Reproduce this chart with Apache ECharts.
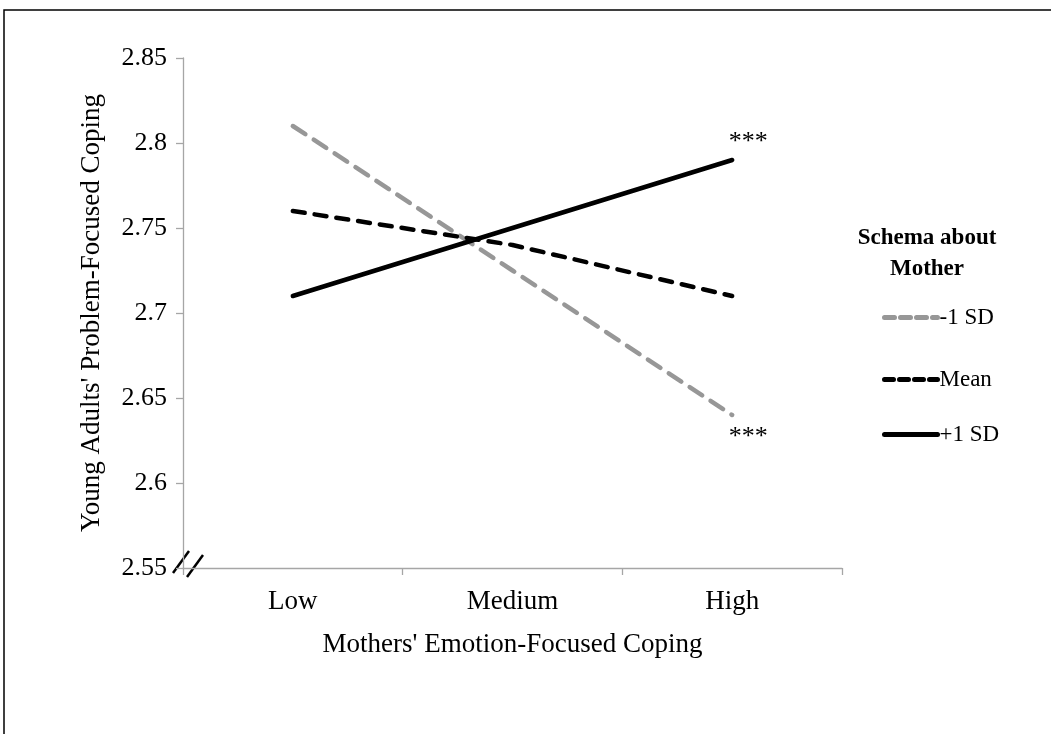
<!DOCTYPE html>
<html>
<head>
<meta charset="utf-8">
<style>html,body{margin:0;padding:0;background:#fff;}#c{width:1051px;height:734px;}</style>
<script src="https://cdn.jsdelivr.net/npm/echarts@6/dist/echarts.min.js"></script>
</head>
<body>
<div id="c"></div>
<script>
const categories = ['Low', 'Medium', 'High'];
const minus1SD = [2.81, 2.725, 2.64];
const meanSeries = [2.76, 2.74, 2.71];
const plus1SD = [2.71, 2.75, 2.79];
const yTicks = [2.55, 2.6, 2.65, 2.7, 2.75, 2.8, 2.85];
const seriesNames = ['-1 SD', 'Mean', '+1 SD'];
const annotations = [{series: '-1 SD', x: 'High', y: 2.64, text: '***'}, {series: '+1 SD', x: 'High', y: 2.79, text: '***'}];

const FONT = '"Liberation Serif", "Times New Roman", serif';
const chart = echarts.init(document.getElementById('c'), null, {renderer: 'canvas'});

function starMark(val) {
  const a = annotations.find(d => d.y === val);
  return a ? [{coord: [a.x, a.y], value: a.text}] : [];
}

function legendFor(name, top, color, type) {
  return {
    orient: 'vertical', left: 882, top: top, padding: 0, itemWidth: 53, itemHeight: 14, itemGap: 0,
    data: [name],
    textStyle: {fontFamily: FONT, fontSize: 23, color: '#000', padding: [0, 0, 0, -3]},
    itemStyle: {opacity: 0},
    lineStyle: {color: color, width: 5, type: type, cap: 'round', opacity: 1}
  };
}

chart.setOption({
  animation: false,
  backgroundColor: '#fff',
  textStyle: {fontFamily: FONT},
  grid: {left: 183, right: 209, top: 58, bottom: 166, containLabel: false},
  title: {
    text: 'Schema about\nMother', left: 922, top: 218, textAlign: 'center',
    textStyle: {fontFamily: FONT, fontSize: 23, fontWeight: 'bold', color: '#000', lineHeight: 31}
  },
  legend: [
    legendFor(seriesNames[0], 306, '#979797', [10, 6]),
    legendFor(seriesNames[1], 368, '#000', [9, 6]),
    legendFor(seriesNames[2], 423, '#000', 'solid')
  ],
  xAxis: {
    type: 'category', data: categories, boundaryGap: true,
    name: "Mothers' Emotion-Focused Coping", nameLocation: 'middle', nameGap: 63,
    nameTextStyle: {fontFamily: FONT, fontSize: 27, color: '#000'},
    axisLine: {lineStyle: {color: '#a6a6a6', width: 1.3}},
    axisTick: {show: true, length: 7, lineStyle: {color: '#a6a6a6', width: 1.3}},
    axisLabel: {fontFamily: FONT, fontSize: 27, color: '#000', margin: 20},
    splitLine: {show: false}
  },
  yAxis: {
    type: 'value', min: 2.55, max: 2.85, interval: 0.05,
    name: "Young Adults' Problem-Focused Coping", nameLocation: 'middle', nameGap: 78, nameRotate: 90,
    nameTextStyle: {fontFamily: FONT, fontSize: 27, color: '#000'},
    axisLine: {show: true, lineStyle: {color: '#a6a6a6', width: 1.3}},
    axisTick: {show: true, length: 7, lineStyle: {color: '#a6a6a6', width: 1.3}},
    axisLabel: {fontFamily: FONT, fontSize: 26, color: '#000', margin: 16,
      formatter: v => { const t = yTicks.find(x => Math.abs(x - v) < 1e-6); return t === undefined ? '' : String(t); }},
    splitLine: {show: false}
  },
  series: [
    {
      name: seriesNames[0], type: 'line', data: minus1SD, symbol: 'none', color: '#979797',
      lineStyle: {color: '#979797', width: 4.5, type: [15, 10], cap: 'round'},
      markPoint: {symbol: 'circle', symbolSize: 1, itemStyle: {color: 'rgba(0,0,0,0)'},
        label: {show: true, formatter: p => p.value, position: 'inside', offset: [16, 22], fontFamily: FONT, fontSize: 26, color: '#000'},
        data: starMark(2.64)}
    },
    {
      name: seriesNames[1], type: 'line', data: meanSeries, symbol: 'none', color: '#000',
      lineStyle: {color: '#000', width: 4.5, type: [12, 10], cap: 'round'}
    },
    {
      name: seriesNames[2], type: 'line', data: plus1SD, symbol: 'none', color: '#000',
      lineStyle: {color: '#000', width: 4.5, type: 'solid', cap: 'round'},
      markPoint: {symbol: 'circle', symbolSize: 1, itemStyle: {color: 'rgba(0,0,0,0)'},
        label: {show: true, formatter: p => p.value, position: 'inside', offset: [16, -18], fontFamily: FONT, fontSize: 26, color: '#000'},
        data: starMark(2.79)}
    }
  ]
});

// axis break marks and outer frame
const pLow = chart.convertToPixel({xAxisIndex: 0}, 'Low');
const pMed = chart.convertToPixel({xAxisIndex: 0}, 'Medium');
const x0 = pLow - (pMed - pLow) / 2;
const y0 = chart.convertToPixel({yAxisIndex: 0}, 2.55);
chart.setOption({
  graphic: [
    {type: 'rect', shape: {x: 4, y: 10, width: 1100, height: 800}, style: {fill: 'none', stroke: '#000', lineWidth: 1.5}, silent: true},
    {type: 'line', shape: {x1: x0 - 10, y1: y0 + 5, x2: x0 + 6, y2: y0 - 17}, style: {stroke: '#000', lineWidth: 2.5}},
    {type: 'line', shape: {x1: x0 + 4, y1: y0 + 9, x2: x0 + 20, y2: y0 - 13}, style: {stroke: '#000', lineWidth: 2.5}}
  ]
});
</script>
</body>
</html>
